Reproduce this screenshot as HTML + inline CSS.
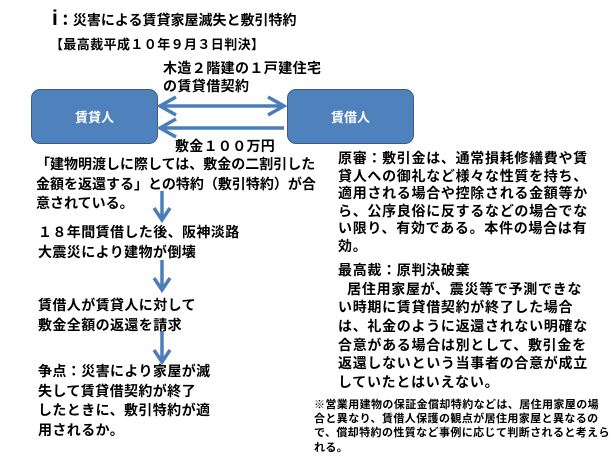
<!DOCTYPE html>
<html><head><meta charset="utf-8"><style>
body{margin:0;width:612px;height:459px;background:#fff;position:relative;overflow:hidden;font-family:"Liberation Sans","Noto Sans CJK JP",sans-serif;font-weight:bold;color:#000}
.t{position:absolute;white-space:nowrap;font-size:14px}
.t span{display:block;height:17.5px;line-height:17.5px;overflow:visible}
.l span{height:19.5px;line-height:19.5px}
.r span{height:18.7px;line-height:18.7px}
.f span{height:14.2px;line-height:14.2px}
.box{position:absolute;background:#4f81bd;border:1px solid #385d8a;border-radius:9px;color:#fff;font-size:13px;display:flex;align-items:center;justify-content:center}
</style></head><body>
<div class="t" style="left:52px;top:7px"><span style="height:24px;line-height:24px"><b style="font-size:21px">i</b><b style="font-size:15px">：</b>災害による賃貸家屋滅失と敷引特約</span></div>
<div class="t" style="left:50px;top:36px;font-size:13px;letter-spacing:0.4px"><span>【最高裁平成１０年９月３日判決】</span></div>
<div class="t" style="left:163px;top:60px;letter-spacing:0.4px"><span>木造２階建の１戸建住宅</span><span>の賃貸借契約</span></div>
<div class="box" style="left:31px;top:89px;width:125px;height:53px">賃貸人</div>
<div class="box" style="left:287px;top:89px;width:125px;height:53px">賃借人</div>
<svg style="position:absolute;left:0;top:0" width="612" height="459">
<g stroke="#4a7ebb" stroke-width="3.5" fill="none">
<line x1="160" y1="106" x2="284" y2="106"/>
<polyline points="176,97 160,106 176,115"/>
<polyline points="268,97 284,106 268,115"/>
<line x1="160" y1="128" x2="284" y2="128"/>
<polyline points="176,119 160,128 176,137"/>
<line x1="162" y1="191" x2="162" y2="220"/>
<polyline points="154,208 162,220 170,208"/>
<line x1="162" y1="260" x2="162" y2="290"/>
<polyline points="154,278 162,290 170,278"/>
<line x1="162" y1="331" x2="162" y2="362"/>
<polyline points="154,350 162,362 170,350"/>
</g></svg>
<div class="t" style="left:175px;top:138px;letter-spacing:0.3px"><span>敷金１００万円</span></div>
<div class="t l" style="left:36px;top:155px"><span>「建物明渡しに際しては、敷金の二割引した</span><span>金額を返還する」との特約（敷引特約）が合</span><span>意されている。</span></div>
<div class="t l" style="left:38px;top:223px;letter-spacing:0.4px"><span>１８年間賃借した後、阪神淡路</span><span>大震災により建物が倒壊</span></div>
<div class="t l" style="left:38px;top:296px;letter-spacing:0.4px"><span>賃借人が賃貸人に対して</span><span>敷金全額の返還を請求</span></div>
<div class="t l" style="left:38px;top:362px;letter-spacing:0.4px"><span>争点：災害により家屋が滅</span><span>失して賃貸借契約が終了</span><span>したときに、敷引特約が適</span><span>用されるか。</span></div>
<div class="t" style="left:338px;top:150px;letter-spacing:0.7px"><span>原審：敷引金は、通常損耗修繕費や賃</span><span>貸人への御礼など様々な性質を持ち、</span><span>適用される場合や控除される金額等か</span><span>ら、公序良俗に反するなどの場合でな</span><span>い限り、有効である。本件の場合は有</span><span>効。</span></div>
<div class="t r" style="left:338px;top:261px;letter-spacing:0.7px"><span>最高裁：原判決破棄</span><span>&nbsp;&nbsp;居住用家屋が、震災等で予測できな</span><span>い時期に賃貸借契約が終了した場合</span><span>は、礼金のように返還されない明確な</span><span>合意がある場合は別として、敷引金を</span><span>返還しないという当事者の合意が成立</span><span>していたとはいえない。</span></div>
<div class="t f" style="left:314px;top:398px;font-size:11px;letter-spacing:0.4px"><span>※営業用建物の保証金償却特約などは、居住用家屋の場</span><span>合と異なり、賃借人保護の観点が居住用家屋と異なるの</span><span>で、償却特約の性質など事例に応じて判断されると考えら</span><span>れる。</span></div>
</body></html>
